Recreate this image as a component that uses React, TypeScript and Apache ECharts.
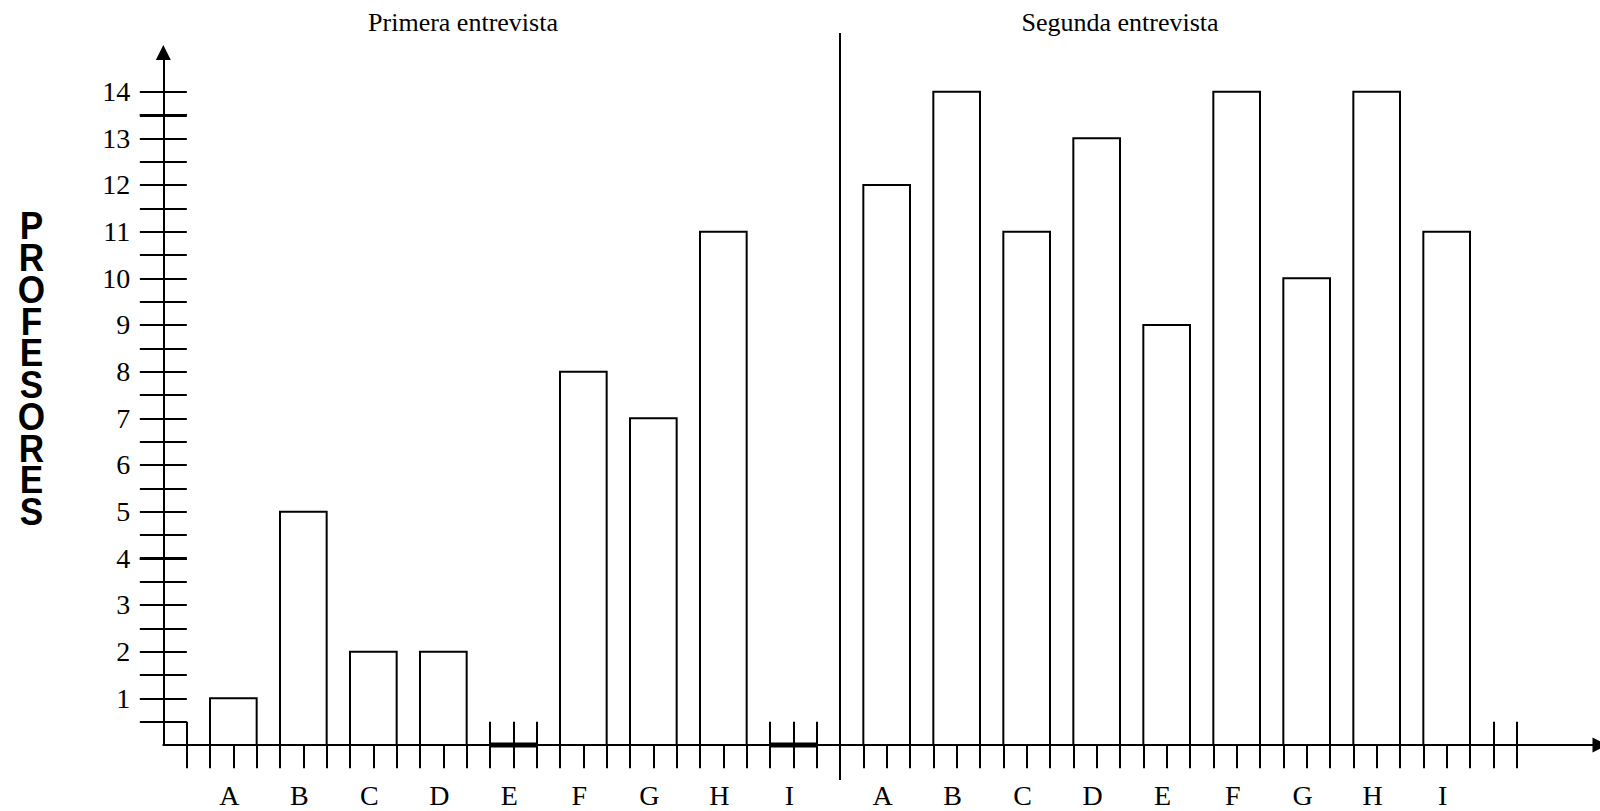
import React, { useEffect, useRef } from "react";
import * as echarts from "echarts";

// ---- Data ----
const categories = ["A", "B", "C", "D", "E", "F", "G", "H", "I"];
const primeraEntrevista = [1, 5, 2, 2, 0, 8, 7, 11, 0];
const segundaEntrevista = [12, 14, 11, 13, 9, 14, 10, 14, 11];
const yTickLabels = [1, 2, 3, 4, 5, 6, 7, 8, 9, 10, 11, 12, 13, 14];
const groupTitles = ["Primera entrevista", "Segunda entrevista"];
const axisTitle = "PROFESORES";

// ---- Layout (x in tick units, y in value units) ----
const ORIGIN_X = 163.33;
const ORIGIN_Y = 745;
const UNIT_X = 70 / 3;
const UNIT_Y = 46.667;
const FIRST_START = 2;
const SECOND_START = 30;
const STEP = 3;
const BAR_SPAN = 2;
const DIVIDER = 29;
const LAST_TICK = 58;
const GRID_TOP = 52.5;
const X_MAX = (1600 - ORIGIN_X) / UNIT_X;
const Y_MAX = (ORIGIN_Y - GRID_TOP) / UNIT_Y;

const SERIF = "Liberation Serif";
const BLACK = "#000";

export default function App() {
  const ref = useRef<HTMLDivElement>(null);

  useEffect(() => {
    if (!ref.current) return;
    const chart = echarts.init(ref.current, null, { renderer: "svg" });

    const belowTicks: number[] = [];
    for (let k = 1; k <= LAST_TICK; k++) belowTicks.push(k);
    const zeroTicks = (start: number) => [start, start + 1, start + 2];
    const aboveTicks: number[] = [1];
    primeraEntrevista.forEach((v, i) => {
      if (v === 0) aboveTicks.push(...zeroTicks(FIRST_START + STEP * i));
    });
    segundaEntrevista.forEach((v, i) => {
      if (v === 0) aboveTicks.push(...zeroTicks(SECOND_START + STEP * i));
    });
    aboveTicks.push(LAST_TICK - 1, LAST_TICK);

    const yTicks: number[] = [];
    for (let v = 0.5; v <= 14; v += 0.5) yTicks.push(v);
    const thickYTicks = [4, 13.5];

    const labelCenters = [
      ...categories.map((_, i) => FIRST_START + STEP * i + 1),
      ...categories.map((_, i) => SECOND_START + STEP * i + 1),
    ];

    const barData = (values: number[], start: number) =>
      values.map((v, i) => [start + STEP * i, v]);

    const renderBar = (params: any, api: any) => {
      const x0 = api.value(0);
      const v = api.value(1);
      const p0 = api.coord([x0, 0]);
      const p1 = api.coord([x0 + BAR_SPAN, v]);
      if (v === 0) {
        return {
          type: "line",
          shape: { x1: p0[0], y1: p0[1], x2: p1[0], y2: p0[1] },
          style: { stroke: BLACK, lineWidth: 5 },
        };
      }
      return {
        type: "rect",
        shape: { x: p0[0], y: p1[1], width: p1[0] - p0[0], height: p0[1] - p1[1] },
        style: { fill: "#fff", stroke: BLACK, lineWidth: 2 },
      };
    };

    const lineStyle = { color: BLACK, width: 2 };
    const hiddenAxisBase = {
      type: "value" as const,
      axisLine: { show: false, onZero: false },
      axisLabel: { show: false },
      splitLine: { show: false },
    };

    chart.setOption({
      animation: false,
      grid: { left: ORIGIN_X, right: 0, top: GRID_TOP, bottom: 811 - ORIGIN_Y, containLabel: false },
      xAxis: [
        {
          type: "value",
          min: 0,
          max: X_MAX,
          position: "bottom",
          axisLine: {
            show: true,
            onZero: false,
            symbol: ["none", "triangle"],
            symbolSize: [15, 15],
            lineStyle,
          },
          axisTick: { show: true, inside: false, length: UNIT_X, customValues: belowTicks, lineStyle },
          axisLabel: {
            show: true,
            customValues: labelCenters,
            formatter: (v: number) => {
              const idx = v < DIVIDER ? (v - FIRST_START - 1) / STEP : (v - SECOND_START - 1) / STEP;
              return categories[Math.round(idx)] ?? "";
            },
            margin: 36,
            padding: [0, 8, 0, 0],
            color: BLACK,
            fontFamily: SERIF,
            fontSize: 28,
          },
          splitLine: { show: false },
        },
        {
          ...hiddenAxisBase,
          min: 0,
          max: X_MAX,
          position: "bottom",
          axisTick: { show: true, inside: true, length: UNIT_X, customValues: aboveTicks, lineStyle },
        },
      ],
      yAxis: [
        {
          type: "value",
          min: 0,
          max: Y_MAX,
          position: "left",
          axisLine: {
            show: true,
            onZero: false,
            symbol: ["none", "triangle"],
            symbolSize: [15, 15],
            lineStyle,
          },
          axisTick: { show: true, inside: false, length: 23.5, customValues: yTicks, lineStyle },
          axisLabel: {
            show: true,
            customValues: yTickLabels,
            margin: 33,
            padding: [6, 0, 0, 0],
            color: BLACK,
            fontFamily: SERIF,
            fontSize: 28,
          },
          splitLine: { show: false },
        },
        {
          ...hiddenAxisBase,
          min: 0,
          max: Y_MAX,
          position: "left",
          axisTick: { show: true, inside: true, length: 23.5, customValues: yTicks, lineStyle },
        },
        {
          ...hiddenAxisBase,
          min: 0,
          max: Y_MAX,
          position: "left",
          axisTick: { show: true, inside: false, length: 23.5, customValues: thickYTicks, lineStyle: { color: BLACK, width: 3 } },
        },
        {
          ...hiddenAxisBase,
          min: 0,
          max: Y_MAX,
          position: "left",
          axisTick: { show: true, inside: true, length: 23.5, customValues: thickYTicks, lineStyle: { color: BLACK, width: 3 } },
        },
      ],
      series: [
        {
          type: "custom",
          name: groupTitles[0],
          xAxisIndex: 0,
          yAxisIndex: 0,
          renderItem: renderBar,
          data: barData(primeraEntrevista, FIRST_START),
          z: 3,
        },
        {
          type: "custom",
          name: groupTitles[1],
          xAxisIndex: 0,
          yAxisIndex: 0,
          renderItem: renderBar,
          data: barData(segundaEntrevista, SECOND_START),
          z: 3,
        },
        {
          type: "custom",
          name: "divider",
          xAxisIndex: 0,
          yAxisIndex: 0,
          clip: false,
          renderItem: (params: any, api: any) => {
            const p = api.coord([api.value(0), 0]);
            return {
              type: "line",
              shape: { x1: p[0], y1: 33, x2: p[0], y2: 780 },
              style: { stroke: BLACK, lineWidth: 2 },
            };
          },
          data: [[DIVIDER, 0]],
          z: 4,
        },
      ],
      graphic: [
        {
          type: "text",
          x: 463,
          y: 22,
          style: {
            text: groupTitles[0],
            fontFamily: SERIF,
            fontSize: 26,
            fill: BLACK,
            align: "center",
            verticalAlign: "middle",
          },
        },
        {
          type: "text",
          x: 1120,
          y: 22,
          style: {
            text: groupTitles[1],
            fontFamily: SERIF,
            fontSize: 26,
            fill: BLACK,
            align: "center",
            verticalAlign: "middle",
          },
        },
        {
          type: "text",
          x: 31.5,
          y: 368.5,
          scaleX: 0.95,
          scaleY: 1.06,
          style: {
            text: axisTitle.split("").join("\n"),
            fontFamily: "Liberation Sans",
            fontWeight: "bold",
            fontSize: 37,
            lineHeight: 30,
            fill: BLACK,
            align: "center",
            verticalAlign: "middle",
          },
        },
      ],
    });

    return () => chart.dispose();
  }, []);

  return (
    <div
      ref={ref}
      style={{ position: "fixed", left: 0, top: 0, width: 1600, height: 811, background: "#fff" }}
    />
  );
}
